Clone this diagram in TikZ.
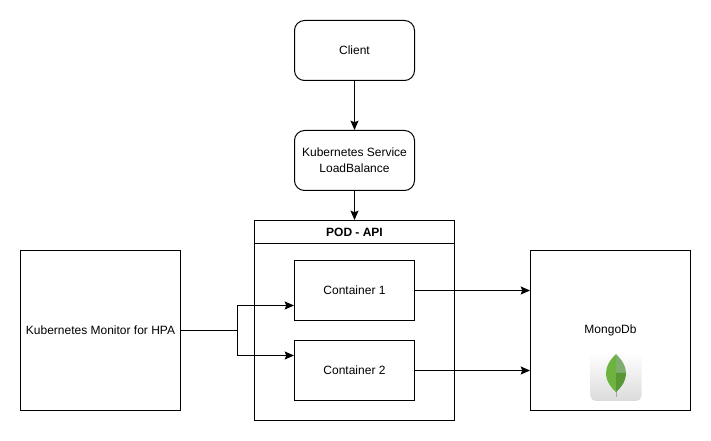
\documentclass[tikz,border=0pt]{standalone}
\usepackage{fontspec}
\setmainfont{Liberation Sans}
\usetikzlibrary{arrows.meta}
\usetikzlibrary{positioning}
\definecolor{leafdark}{HTML}{589636}
\definecolor{leafmid}{HTML}{6DB33F}
\definecolor{leafpale}{HTML}{7FAD6D}
\tikzset{
  box/.style={draw=black,line width=0.75pt,fill=white,font=\fontsize{9}{12}\selectfont,align=center,inner sep=0pt},
  roundbox/.style={box,rounded corners=7.5pt,minimum width=90pt,minimum height=45pt},
  contbox/.style={box,minimum width=90pt,minimum height=45pt},
  sidebox/.style={box,minimum width=120pt,minimum height=120pt},
  link/.style={line width=0.75pt,-{Stealth[length=7pt,width=6pt,inset=1.2pt]}}
}
\begin{document}
\begin{tikzpicture}[x=0.75pt,y=-0.75pt]
\useasboundingbox[fill=white] (-0.5,-0.5) rectangle (710.5,440.5);
\node[roundbox] (client) at (354,50) {Client};
\node[roundbox,below=36.75pt of client] (service) {Kubernetes Service\\LoadBalance};
\node[box,minimum width=150pt,minimum height=150pt] (pod) at (354,320) {};
\node[box,minimum width=150pt,minimum height=17.25pt,below=0pt of pod.north,anchor=north,font=\fontsize{9}{12}\selectfont\bfseries] (podhead) {POD - API};
\node[contbox] (cont1) at (354,290) {Container 1};
\node[contbox,below=14.25pt of cont1] (cont2) {Container 2};
\node[sidebox] (monitor) at (100,330) {Kubernetes Monitor for HPA};
\node[sidebox] (mongo) at (610,330) {MongoDb};
% connectors
\coordinate (branch) at (237,330);
\draw[link] (client) -- (service);
\draw[link] (service) -- (podhead);
\draw[line width=0.75pt] (monitor.east) -- (branch);
\draw[link] (branch) |- ([yshift=-11.25pt]cont1.west);
\draw[link] (branch) |- ([yshift=11.25pt]cont2.west);
\draw[link] (cont1.east) -- (cont1 -| mongo.west);
\draw[link] (cont2.east) -- (cont2 -| mongo.west);
% logo
\shade[top color=white,bottom color=black!14,rounded corners=4pt] (590,351.5) rectangle (641,400.5);
\draw[black!35,line width=0.75pt] (615.5,390) -- (615.5,396.5);
\fill[leafmid] (615.5,353.5) .. controls (609.5,359.5) and (605.5,365.5) .. (605.5,372.5) -- (615.5,372.5) -- cycle;
\fill[leafpale] (615.5,353.5) .. controls (621.5,359.5) and (625.5,365.5) .. (625.5,372.5) -- (615.5,372.5) -- cycle;
\fill[leafmid] (605.5,372.5) .. controls (605.5,380.5) and (610.5,387.5) .. (615.5,391.5) -- (615.5,372.5) -- cycle;
\fill[leafdark] (625.5,372.5) .. controls (625.5,380.5) and (620.5,387.5) .. (615.5,391.5) -- (615.5,372.5) -- cycle;
\end{tikzpicture}
\end{document}
